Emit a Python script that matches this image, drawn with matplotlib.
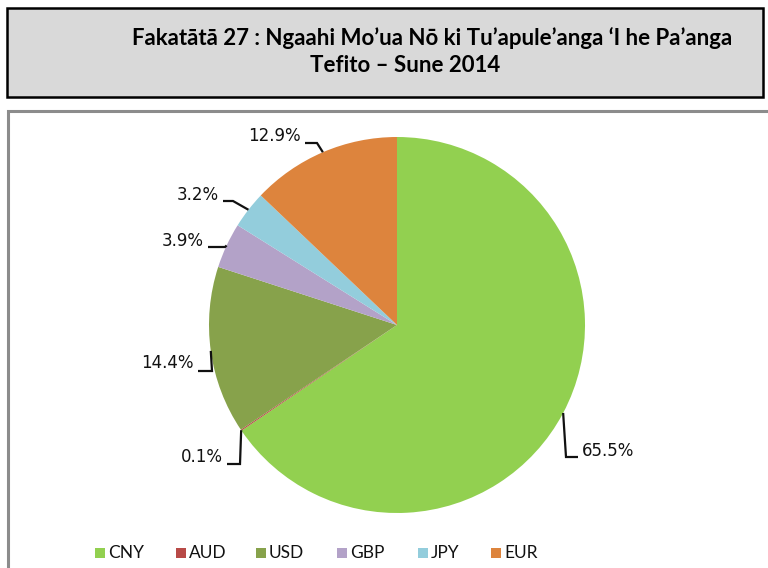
import matplotlib
matplotlib.use('Agg')
import matplotlib.pyplot as plt
import numpy as np
from matplotlib.patches import Rectangle

# ---- data ----
categories = ['CNY', 'AUD', 'USD', 'GBP', 'JPY', 'EUR']
shares = [65.5, 0.1, 14.4, 3.9, 3.2, 12.9]
pct_labels = ['65.5%', '0.1%', '14.4%', '3.9%', '3.2%', '12.9%']
colors = ['#92d050', '#b84a47', '#87a24b', '#b3a2c8', '#93cddc', '#dd843d']
title_line1 = 'Fakatātā 27 : Ngaahi Mo’ua Nō ki Tu’apule’anga ‘I he Pa’anga'
title_line2 = 'Tefito – Sune 2014'

# ---- layout (pixels) ----
W, H = 768, 568
CX, CY, R = 397, 325, 188
# per slice: (elbow_x, elbow_y, line_end_x, text_x, text_y, ha)
label_layout = {
    'CNY': (566, 457, 578, 582, 451, 'left'),
    'AUD': (240, 464, 227, 223, 457, 'right'),
    'USD': (212, 371, 198, 194, 363, 'right'),
    'GBP': (225, 247, 208, 204, 241, 'right'),
    'JPY': (233, 201, 223, 219, 195, 'right'),
    'EUR': (317, 143, 305, 301, 136, 'right'),
}
legend_x = [95, 176, 256, 337, 418, 491]   # marker left edges (px)
LEG_Y = 553

fig = plt.figure(figsize=(W / 100, H / 100), dpi=100)
fig.patch.set_facecolor('white')

# title box
fig.patches.append(Rectangle((7 / W, 1 - 97 / H), (763 - 7) / W, (97 - 8) / H,
                             transform=fig.transFigure, facecolor='#d9d9d9',
                             edgecolor='black', lw=1.8, zorder=-2))
# chart box
fig.patches.append(Rectangle((8 / W, -0.1), 1.0, (1 - 111 / H) + 0.1,
                             transform=fig.transFigure, facecolor='white',
                             edgecolor='#8c8c8c', lw=2.2, zorder=-2))

fig.text(432 / W, 1 - 38 / H, title_line1, ha='center', va='center',
         fontsize=16, fontweight='bold', family=['Lato', 'DejaVu Sans'], color='black')
fig.text(405 / W, 1 - 65 / H, title_line2, ha='center', va='center',
         fontsize=16, fontweight='bold', family=['Lato', 'DejaVu Sans'], color='black')

ax = fig.add_axes([0, 0, 1, 1])
ax.patch.set_visible(False)
ax.axis('off')


def d(px, py):
    return ((px - CX) / R, (CY - py) / R)


wedges, _ = ax.pie(shares, colors=colors, startangle=90, counterclock=False,
                   radius=1.0, center=(0, 0), wedgeprops=dict(linewidth=0))
ax.set_xlim(-CX / R, (W - CX) / R)
ax.set_ylim(-(H - CY) / R, CY / R)
ax.set_aspect('auto')

for cat, w, lab in zip(categories, wedges, pct_labels):
    mid = np.deg2rad((w.theta1 + w.theta2) / 2)
    ex, ey = np.cos(mid), np.sin(mid)
    bx, by, lx, tx, ty, ha = label_layout[cat]
    p1 = d(bx, by)
    p2 = d(lx, by)
    ax.plot([ex, p1[0], p2[0]], [ey, p1[1], p2[1]], color='#111111', lw=1.6,
            solid_joinstyle='miter', solid_capstyle='butt')
    tpos = d(tx, ty)
    ax.text(tpos[0], tpos[1], lab, ha=ha, va='center', fontsize=12,
            family='DejaVu Sans', color='#111111')

# legend (manual, Excel-like spacing)
for cat, col, lx in zip(categories, colors, legend_x):
    fig.patches.append(Rectangle((lx / W, 1 - (LEG_Y + 5) / H), 10 / W, 10 / H,
                                 transform=fig.transFigure, facecolor=col,
                                 edgecolor='none', zorder=3))
    fig.text((lx + 13) / W, 1 - LEG_Y / H, cat, ha='left', va='center',
             fontsize=12.5, family='Lato', color='#111111')

fig.savefig('out.png', dpi=100, facecolor='white')
